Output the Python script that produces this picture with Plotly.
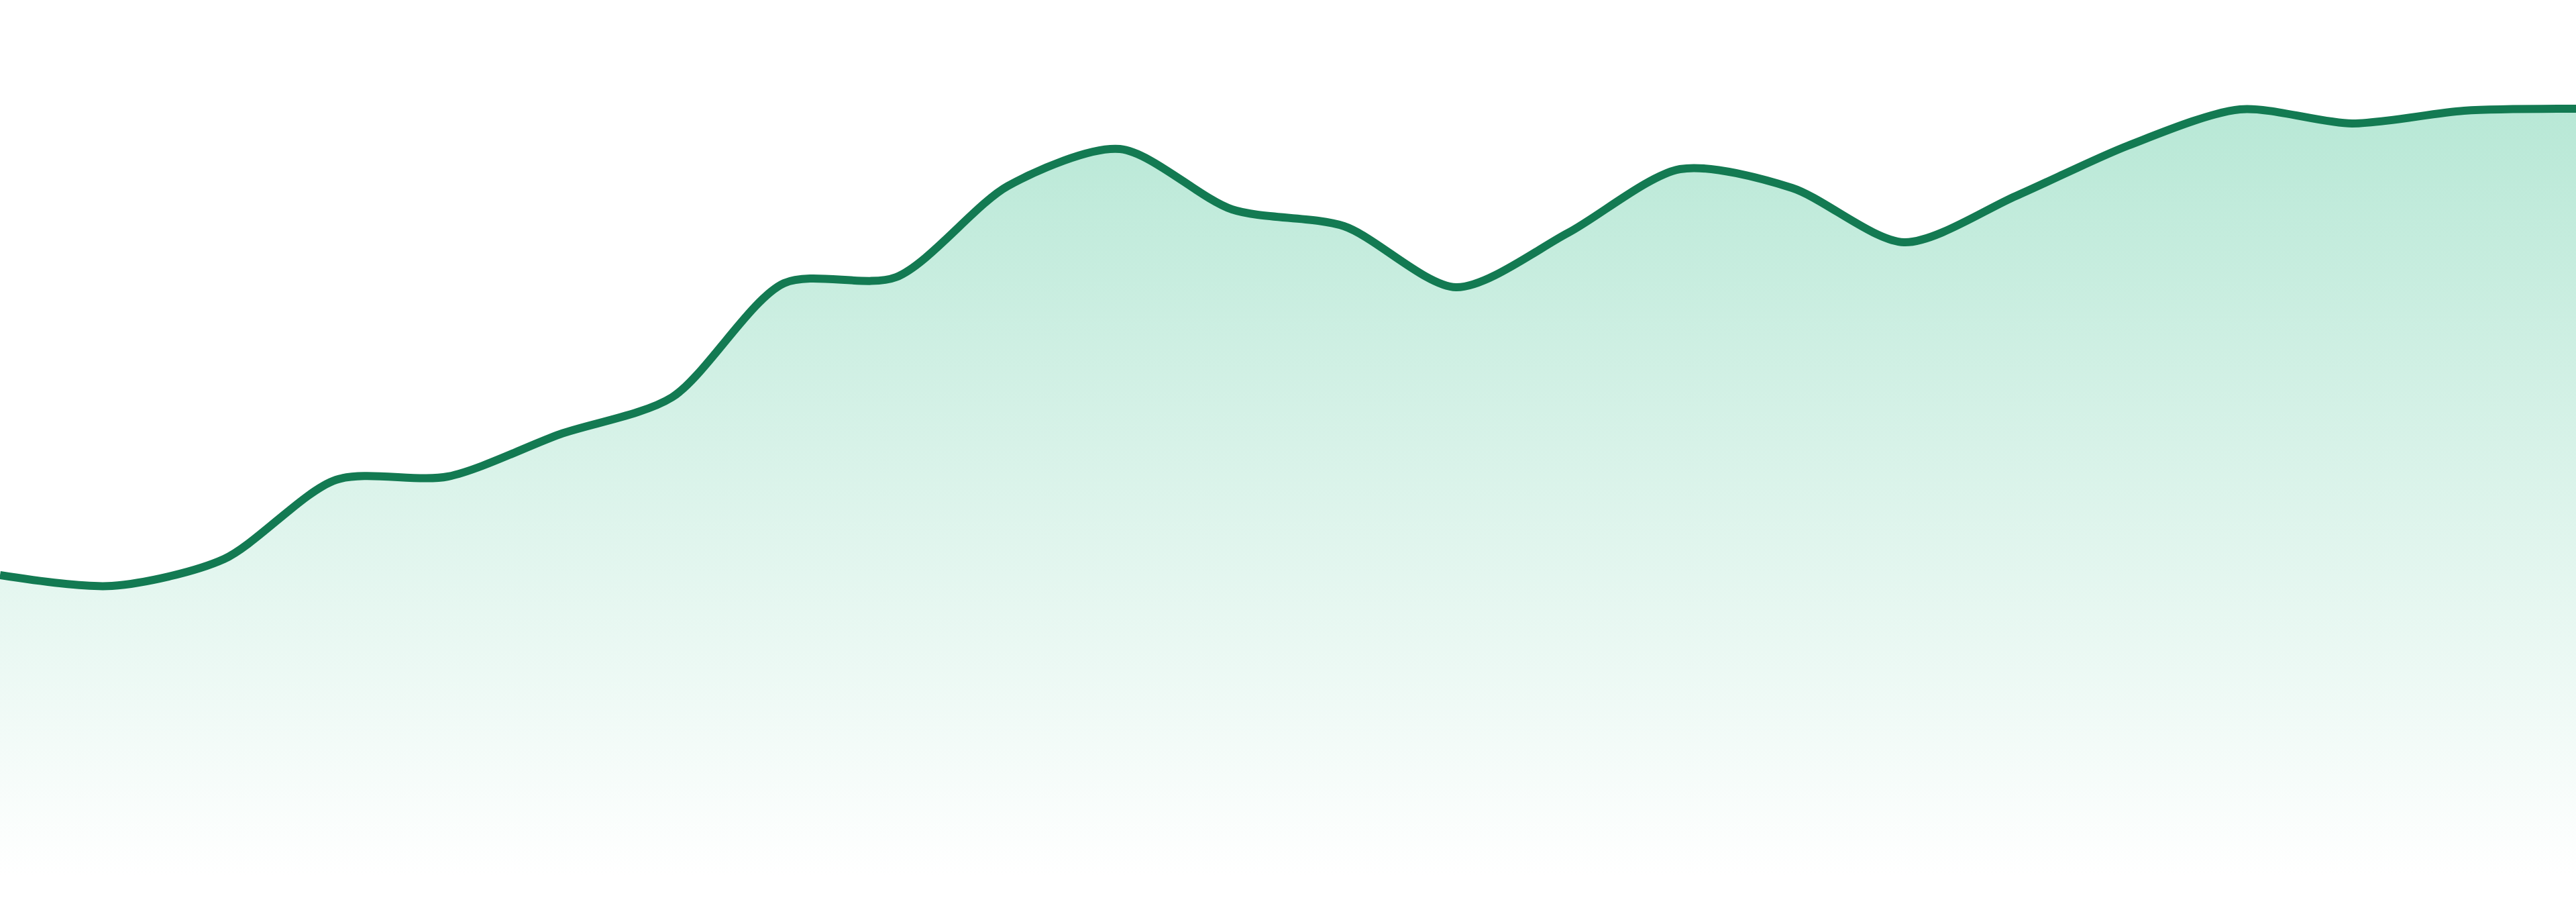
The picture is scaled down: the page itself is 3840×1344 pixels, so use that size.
import plotly.graph_objects as go

# series (one point per period)
periods = list(range(1, 25))
values = [448, 432, 472, 590, 595, 658, 713, 883, 892, 1028, 1083, 993,
          968, 877, 958, 1053, 1025, 944, 1013, 1088, 1142, 1121, 1140, 1143]

line_color = "#137a52"
fill_top = "rgb(184,232,214)"

fig = go.Figure()
fig.add_trace(go.Scatter(
    x=periods,
    y=values,
    mode="lines",
    line=dict(color=line_color, width=12, shape="spline", smoothing=0.8),
    fill="tozeroy",
    fillgradient=dict(
        type="vertical",
        colorscale=[[0, "rgb(255,255,255)"], [1, fill_top]],
        start=0,
        stop=max(values),
    ),
    hoverinfo="skip",
))

fig.update_layout(
    width=3840,
    height=1344,
    margin=dict(l=0, r=0, t=0, b=39),
    paper_bgcolor="white",
    plot_bgcolor="white",
    showlegend=False,
)
fig.update_xaxes(visible=False, range=[periods[0], periods[-1]])
fig.update_yaxes(visible=False, range=[0, 1305])

# drop the default page margin so the chart sits flush in the window
fig.write_html("out.html",
               config={"displayModeBar": False},
               post_script="document.body.style.margin='0';")
